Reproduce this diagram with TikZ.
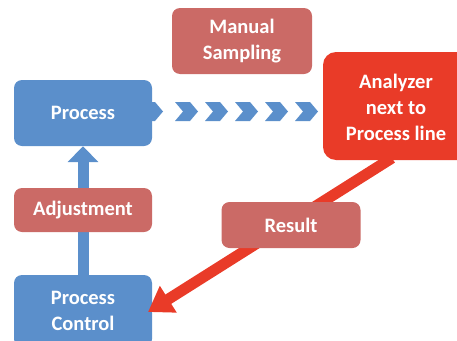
\documentclass[tikz,border=0pt]{standalone}
\usepackage{fontspec}
\setmainfont{Carlito}
\usetikzlibrary{arrows.meta}
\definecolor{pblue}{HTML}{5B8FCB}
\definecolor{ppink}{HTML}{CB6A66}
\definecolor{pred}{HTML}{E93B28}
\begin{document}
\begin{tikzpicture}[x=1pt,y=-1pt,
  box/.style={rounded corners=8pt, text=white, font=\fontsize{20.5}{26}\selectfont\bfseries, align=center, inner sep=0pt},
  bluebox/.style={box, fill=pblue},
  pinkbox/.style={box, fill=ppink},
  redbox/.style={box, fill=pred, rounded corners=13pt}]
\useasboundingbox (0,0) rectangle (457,340);
\clip (0,0) rectangle (457,340);
% chevrons
\foreach \x in {140,175,205,235,265,295}
  \fill[pblue] (\x,102) -- (\x+15,102) -- (\x+23,111.5) -- (\x+15,121) -- (\x,121) -- (\x+8,111.5) -- cycle;
% nodes
\node[bluebox, minimum width=138pt, minimum height=66pt] (proc) at (83,113) {Process};
\node[pinkbox, minimum width=140pt, minimum height=66pt] (man) at (242,41) {Manual\\Sampling};
\node[redbox, minimum width=150pt, minimum height=108pt] (ana) at (398,106) {};
\node[text=white, font=\fontsize{20.5}{26}\selectfont\bfseries, align=center, inner sep=0pt] (anat) at (396,107) {Analyzer\\next to\\Process line};
\node[bluebox, minimum width=138pt, minimum height=72pt] (pc) at (83,311) {Process\\Control};
\coordinate (pcl) at (83,275);
\coordinate (ana0) at (392,158);
\coordinate (pcr) at (148,312);
% arrows
\draw[pblue, line width=11pt, -{Triangle[width=30pt,length=16pt]}] (pcl) -- (proc.south);
\draw[pred, line width=11pt, -{Triangle[width=30pt,length=24pt]}] (ana0) -- (pcr);
\node[pinkbox, minimum width=138pt, minimum height=44pt] (adj) at (83,210) {Adjustment};
\node[pinkbox, minimum width=139pt, minimum height=46pt] (res) at (291,225) {Result};
\end{tikzpicture}
\end{document}
